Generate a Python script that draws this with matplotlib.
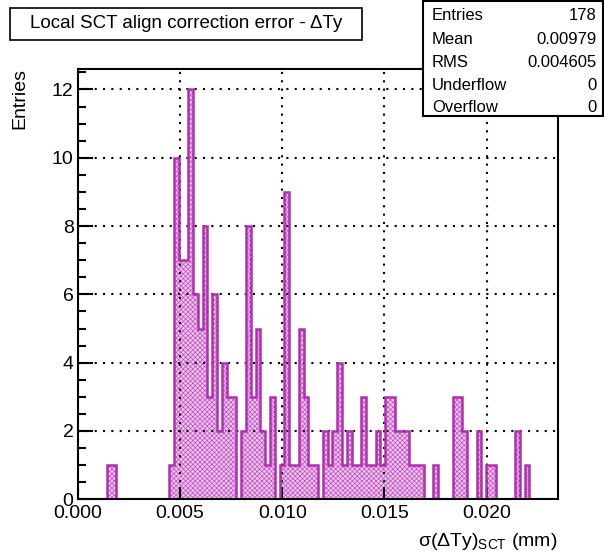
import numpy as np
import matplotlib
matplotlib.use("Agg")
import matplotlib.pyplot as plt
from matplotlib.patches import Rectangle
from matplotlib.ticker import MultipleLocator, FormatStrFormatter

plt.rcParams["font.family"] = ["Liberation Sans", "DejaVu Sans"]
plt.rcParams["hatch.linewidth"] = 0.5

# histogram: 100 bins on [0, 0.0235]
x_min, x_max, n_bins = 0.0, 0.0235, 100
nonzero_bins = [6, 7, 19, 20, 21, 22, 23, 24, 25, 26, 27, 28, 29, 30, 31, 32,
                34, 35, 36, 37, 38, 39, 40, 42, 43, 44, 45, 46, 47, 48, 49,
                51, 52, 53, 54, 55, 56, 57, 58, 59, 60, 61, 62, 63, 64, 65,
                66, 67, 68, 69, 70, 71, 74, 78, 79, 80, 83, 85, 86, 91, 93]
nonzero_counts = [1, 1, 1, 10, 7, 7, 12, 6, 5, 8, 3, 6, 2, 4, 3, 3,
                  2, 8, 3, 5, 2, 1, 3, 1, 9, 1, 1, 5, 3, 1, 1,
                  2, 1, 2, 4, 1, 2, 1, 1, 3, 1, 1, 2, 1, 3, 3,
                  2, 2, 2, 1, 1, 1, 1, 3, 3, 2, 2, 1, 1, 2, 1]

stats_labels = ["Entries", "Mean", "RMS", "Underflow", "Overflow"]
stats_values = ["178", "0.00979", "0.004605", "0", "0"]

title = "Local SCT align correction error - \u0394Ty"
xlabel = "\u03c3(\u0394Ty)$_{\\mathregular{SCT}}$ (mm)"
ylabel = "Entries"

counts = np.zeros(n_bins)
counts[nonzero_bins] = nonzero_counts
edges = np.linspace(x_min, x_max, n_bins + 1)

W, H = 604, 559
fig = plt.figure(figsize=(W / 100, H / 100), dpi=100)
ax = fig.add_axes([77.7 / W, 1 - 499.3 / H, (558.3 - 77.7) / W, (499.3 - 69) / H])

col = "#b02fb0"
ax.stairs(counts, edges, fill=True, facecolor="#ecc4ec", edgecolor="#c050c0",
          hatch="xxxxxxx", linewidth=0, zorder=2)
ax.stairs(counts, edges, fill=False, color=col, linewidth=1.8, zorder=3)

ax.set_xlim(x_min, x_max)
ax.set_ylim(0, counts.max() * 1.05)

ax.xaxis.set_major_locator(MultipleLocator(0.005))
ax.xaxis.set_major_formatter(FormatStrFormatter("%.3f"))
ax.yaxis.set_major_locator(MultipleLocator(2))
ax.yaxis.set_minor_locator(MultipleLocator(0.5))

ax.tick_params(axis="both", which="both", direction="in", top=False, right=False,
               labelsize=14, width=1.5, color="black")
ax.tick_params(axis="x", which="major", length=8.5, pad=4)
ax.tick_params(axis="y", which="major", length=11, pad=3)
ax.tick_params(axis="y", which="minor", length=6)
for s in ax.spines.values():
    s.set_linewidth(1.5)
    s.set_zorder(5)

ax.grid(True, which="major", color="black", linestyle=(0, (1, 3)), linewidth=1.5)
ax.set_axisbelow(False)

fig.text(557 / W, 1 - 546 / H, xlabel, ha="right", va="baseline", fontsize=14)
fig.text(20 / W, 1 - 68 / H, ylabel, ha="center", va="top", rotation=90, fontsize=14)

# title box
fig.patches.append(Rectangle((10 / W, 1 - 40 / H), 352 / W, 32 / H, transform=fig.transFigure,
                             facecolor="white", edgecolor="black", linewidth=1.2))
fig.text(186 / W, 1 - 24 / H, title, ha="center", va="center", fontsize=13.5)

# stats box
fig.patches.append(Rectangle((423 / W, 1 - 116 / H), 180 / W, 115 / H, transform=fig.transFigure,
                             facecolor="white", edgecolor="black", linewidth=1.5, zorder=10))
row_y = [16, 39, 62, 85, 107]
for lab, val, yy in zip(stats_labels, stats_values, row_y):
    fig.text(432 / W, 1 - yy / H, lab, ha="left", va="center", fontsize=12, zorder=11)
    fig.text(597 / W, 1 - yy / H, val, ha="right", va="center", fontsize=12, zorder=11)

fig.savefig("out.png", dpi=100)
